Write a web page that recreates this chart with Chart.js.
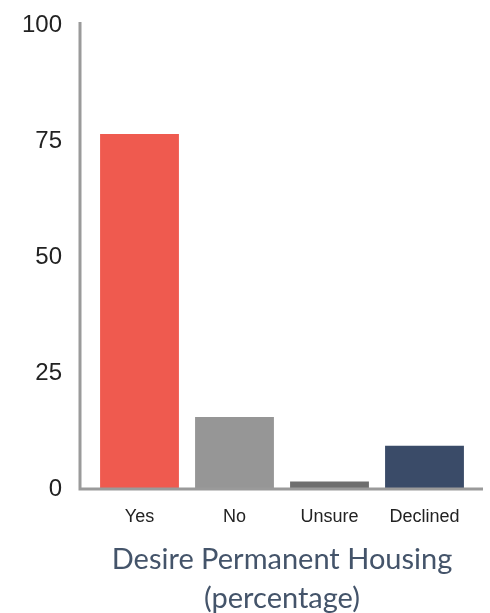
<!DOCTYPE html>
<html>
<head>
<meta charset="utf-8">
<script src="https://cdn.jsdelivr.net/npm/chart.js@4"></script>
<style>
  html, body { margin: 0; padding: 0; background: #fff; }
  #wrap { width: 490px; height: 613px; }
</style>
</head>
<body>
<div id="wrap"><canvas id="chart" width="490" height="613"></canvas></div>
<script>
// values
const categories = ['Yes', 'No', 'Unsure', 'Declined'];
const percentages = [76.5, 15.5, 1.6, 9.3];
const barColors = ['#EF5A4F', '#969696', '#6E6E6E', '#3A4B68'];
const yTicks = [0, 25, 50, 75, 100];
const titleLines = ['Desire Permanent Housing', '(percentage)'];

// axis lines drawn a bit past the plot area like the original
const axisLines = {
  id: 'axisLines',
  afterDatasetsDraw(chart){
    const { ctx, chartArea } = chart;
    ctx.save();
    ctx.strokeStyle = '#9a9a9a';
    ctx.lineWidth = 3;
    ctx.beginPath();
    ctx.moveTo(80, chartArea.top - 3);
    ctx.lineTo(80, chartArea.bottom + 1.5);
    ctx.moveTo(78.5, chartArea.bottom);
    ctx.lineTo(chartArea.right + 11, chartArea.bottom);
    ctx.stroke();
    ctx.restore();
  }
};

new Chart(document.getElementById('chart'), {
  type: 'bar',
  data: {
    labels: categories,
    datasets: [{ data: percentages, backgroundColor: barColors, barPercentage: 0.83, categoryPercentage: 1 }]
  },
  options: {
    responsive: false,
    animation: false,
    layout: { padding: { top: 25, right: 18, left: 0, bottom: 0 } },
    plugins: { legend: { display: false }, tooltip: { enabled: false } },
    scales: {
      x: {
        afterFit(scale){ scale.height = 124; scale.paddingTop = 0; },
        grid: { display: false, drawTicks: false },
        border: { display: false },
        ticks: { color: '#222', font: { family: 'Liberation Sans', size: 18 }, padding: 17 },
        title: {
          display: true,
          text: titleLines,
          color: '#44546A',
          font: { family: 'Lato', size: 29, lineHeight: 1.35 },
          padding: { top: 0, bottom: -5 }
        }
      },
      y: {
        min: 0, max: 100,
        afterFit(scale){ scale.width = 92; scale.paddingTop = 0; scale.paddingBottom = 0; },
        afterBuildTicks(scale){ scale.ticks = yTicks.map(v => ({ value: v })); },
        grid: { display: false, drawTicks: false },
        border: { display: false },
        ticks: { color: '#222', font: { family: 'Liberation Sans', size: 24 }, padding: 30 }
      }
    }
  },
  plugins: [axisLines]
});
</script>
</body>
</html>
